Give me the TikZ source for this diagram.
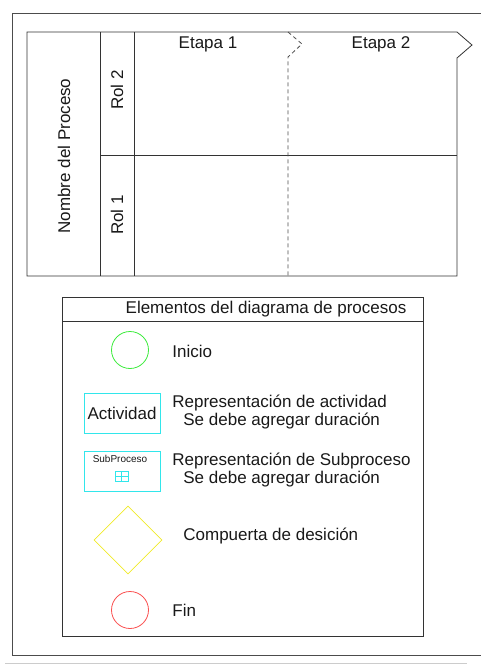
\documentclass[tikz,border=0pt]{standalone}
\usepackage{fontspec}
\setmainfont{Liberation Sans}
\usetikzlibrary{shapes.geometric}

\definecolor{verde}{RGB}{60,235,60}
\definecolor{celeste}{RGB}{50,230,235}
\definecolor{amarillo}{RGB}{240,235,40}
\definecolor{rojo}{RGB}{250,80,80}

\begin{document}
\begin{tikzpicture}
  [x=1pt,y=-1pt,line width=0.8pt,
   every node/.style={font=\fontsize{17}{18}\selectfont,inner sep=0pt,text=black!90},
   rol/.style={rotate=90},
   texto/.style={anchor=west,align=left},
   evento/.style={circle,minimum size=37pt},
   caja/.style={rectangle,draw=celeste,minimum width=76pt,minimum height=40pt}]
  \useasboundingbox (0,0) rectangle (480,664);

  % marco
  \draw[black!70] (482,13) -- (12,13) -- (12,655) -- (482,655);
  \draw[black!20] (5,663) -- (467,663);

  % piscina
  \draw[black!80] (27,32) -- (457,32) -- (472,45) -- (457,58) -- (457,276) -- (27,276) -- cycle;
  \draw[black!80] (100,32) -- (100,276);
  \draw[black!80] (134,32) -- (134,276);
  \draw[black!80] (100,155) -- (457,155);
  \draw[black!70,dash pattern=on 4pt off 3pt] (288,32) -- (302,44) -- (288,57) -- (288,276);

  \node (etapa1) at (208,44) {Etapa 1};
  \node (etapa2) at (381,44) {Etapa 2};
  \node[rol] (proceso) at (64,156) {Nombre del Proceso};
  \node[rol] (rol2) at (117,90) {Rol 2};
  \node[rol] (rol1) at (117,215) {Rol 1};

  % leyenda
  \draw[black!80] (62,297) rectangle (423,636);
  \draw[black!80] (62,321) -- (423,321);
  \node (titulo) at (266,309) {Elementos del diagrama de procesos};

  \node[evento,draw=verde] (inicio) at (130,350) {};
  \node[texto] (tinicio) at (172,351) {Inicio};

  \node[caja] (actividad) at (122,413) {Actividad};
  \node[texto] (tactividad) at (172,412) {Representación de actividad\\\hspace*{11pt}Se debe agregar duración};

  \node[caja] (subproceso) at (122,471) {};
  \node[font=\fontsize{10}{12}\selectfont] (tsub) at (120,459) {SubProceso};
  \draw[celeste] (115,471) rectangle (128,481);
  \draw[celeste] (121.5,471) -- (121.5,481);
  \draw[celeste] (115,476) -- (128,476);
  \node[texto] (tsubproceso) at (172,470) {Representación de Subproceso\\\hspace*{11pt}Se debe agregar duración};

  \node[diamond,aspect=1,draw=amarillo,minimum size=68pt] (compuerta) at (128,540) {};
  \node[texto] (tcompuerta) at (183,536) {Compuerta de desición};

  \node[evento,draw=rojo] (fin) at (130,610) {};
  \node[texto] (tfin) at (172,610) {Fin};
\end{tikzpicture}
\end{document}
